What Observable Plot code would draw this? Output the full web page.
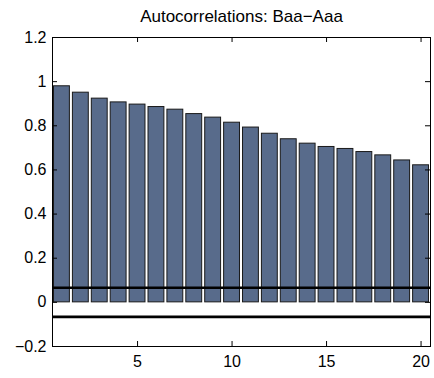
<!DOCTYPE html>
<html>
<head>
<meta charset="utf-8">
<script src="https://cdn.jsdelivr.net/npm/d3@7"></script>
<script src="https://cdn.jsdelivr.net/npm/@observablehq/plot@0.6"></script>
<style>
  html, body { margin: 0; padding: 0; background: #fff; }
  svg { display: block; }
</style>
</head>
<body>
<div id="chart"></div>
<script>
const title = "Autocorrelations: Baa\u2212Aaa";
const lags = [1, 2, 3, 4, 5, 6, 7, 8, 9, 10, 11, 12, 13, 14, 15, 16, 17, 18, 19, 20];
const acf = [0.979, 0.950, 0.923, 0.906, 0.896, 0.885, 0.873, 0.853, 0.837, 0.814,
             0.792, 0.764, 0.739, 0.719, 0.704, 0.695, 0.681, 0.666, 0.643, 0.621];
const confBounds = [0.066, -0.066];
const xTicks = [5, 10, 15, 20];
const yTicks = [-0.2, 0, 0.2, 0.4, 0.6, 0.8, 1, 1.2];

const data = lags.map((lag, i) => ({lag, value: acf[i]}));

const W = 434, H = 378;
const mL = 52, mR = 4, mT = 37, mB = 32;
const pw = W - mL - mR, ph = H - mT - mB;
const tick = 5;
const fmt = d3.format("");
const font = "Liberation Sans, Arial, Helvetica, sans-serif";

const chart = Plot.plot({
  width: W,
  height: H,
  marginLeft: mL,
  marginRight: mR,
  marginTop: mT,
  marginBottom: mB,
  style: {fontFamily: font, fontSize: "16px", background: "#fff", color: "#000"},
  x: {domain: [0.5, 20.5], axis: null},
  y: {domain: [-0.2, 1.2], axis: null},
  marks: [
    Plot.rectY(data, {
      x1: d => d.lag - 0.42,
      x2: d => d.lag + 0.42,
      y1: 0,
      y2: "value",
      fill: "#586b8b",
      stroke: "#1a1a1a",
      strokeWidth: 1
    }),
    Plot.ruleY(confBounds, {stroke: "#000", strokeWidth: 2.6}),
    // inward ticks
    Plot.ruleY(yTicks, {stroke: "#000", insetRight: pw - tick}),
    Plot.ruleY(yTicks, {stroke: "#000", insetLeft: pw - tick}),
    Plot.ruleX(xTicks, {stroke: "#000", insetTop: ph - tick}),
    Plot.ruleX(xTicks, {stroke: "#000", insetBottom: ph - tick}),
    Plot.frame({stroke: "#000", strokeWidth: 1}),
    Plot.axisY(yTicks, {anchor: "left", tickSize: 0, tickPadding: 6, tickFormat: fmt, label: null, fontSize: 16}),
    Plot.axisX(xTicks, {anchor: "bottom", tickSize: 0, tickPadding: 9, tickFormat: fmt, label: null, fontSize: 16}),
    Plot.text([title], {frameAnchor: "top", dy: -21, fontSize: 17, text: d => d, lineAnchor: "middle"})
  ]
});
document.getElementById("chart").appendChild(chart);
</script>
</body>
</html>
